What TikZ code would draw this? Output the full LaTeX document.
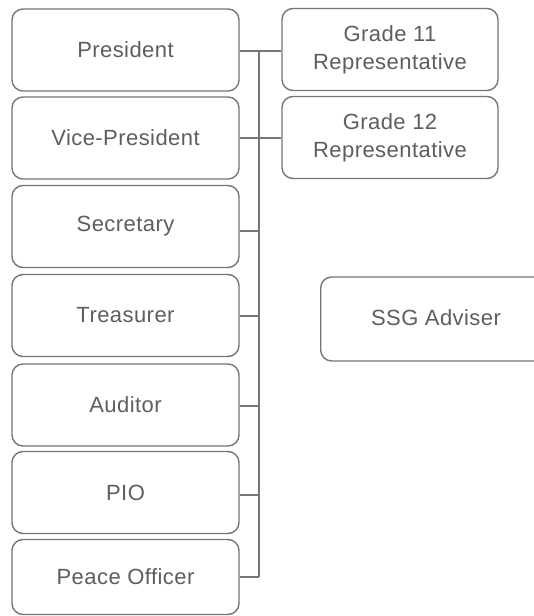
\documentclass[tikz,border=0pt]{standalone}
\usepackage{fontspec}
\setmainfont{Liberation Sans}[LetterSpace=2]
\definecolor{linegray}{HTML}{767676}
\definecolor{textgray}{HTML}{5E5E5E}
\tikzset{
  box/.style={draw=linegray, line width=1.4pt, rounded corners=11pt, align=center,
    text=textgray, font=\fontsize{22}{28}\selectfont, inner sep=0pt},
  leftbox/.style={box, minimum width=227pt, minimum height=82pt},
  gradebox/.style={box, minimum width=216pt, minimum height=82pt},
  conn/.style={draw=linegray, line width=1.4pt}
}
\begin{document}
\begin{tikzpicture}[x=1pt,y=-1pt]
\useasboundingbox (0,0) rectangle (534,616);
\clip (0,0) rectangle (534,616);
\fill[white] (0,0) rectangle (534,616);
\node[leftbox] (pres) at (125.5,50) {President};
\node[leftbox] (vice) at (125.5,138) {Vice-President};
\node[leftbox] (sec) at (125.5,226.5) {Secretary};
\node[leftbox] (tre) at (125.5,315.5) {Treasurer};
\node[leftbox] (aud) at (125.5,405) {Auditor};
\node[leftbox] (pio) at (125.5,492.5) {PIO};
\node[leftbox, minimum height=75pt] (peace) at (125.5,577) {Peace Officer};
\node[gradebox] (g11) at (390,49.5) {Grade 11\\Representative};
\node[gradebox] (g12) at (390,137.5) {Grade 12\\Representative};
\node[box, minimum width=230pt, minimum height=84pt, anchor=west] (ssg) at (320,319) {};
\node[text=textgray, font=\fontsize{22}{28}\selectfont] (ssgt) at (436,318) {SSG Adviser};
% bus
\coordinate (bt) at (259,51);
\coordinate (bb) at (259,577);
\draw[conn] (bt) -- (bb);
\draw[conn] (pres.east |- 0,51) -- (g11.west |- 0,51);
\draw[conn] (vice.east |- 0,138) -- (g12.west |- 0,138);
\draw[conn] (sec.east |- 0,231) -- (259,231);
\draw[conn] (tre.east |- 0,316) -- (259,316);
\draw[conn] (aud.east |- 0,406) -- (259,406);
\draw[conn] (pio.east |- 0,495) -- (259,495);
\draw[conn] (peace.east |- 0,577) -- (bb);
\end{tikzpicture}
\end{document}
